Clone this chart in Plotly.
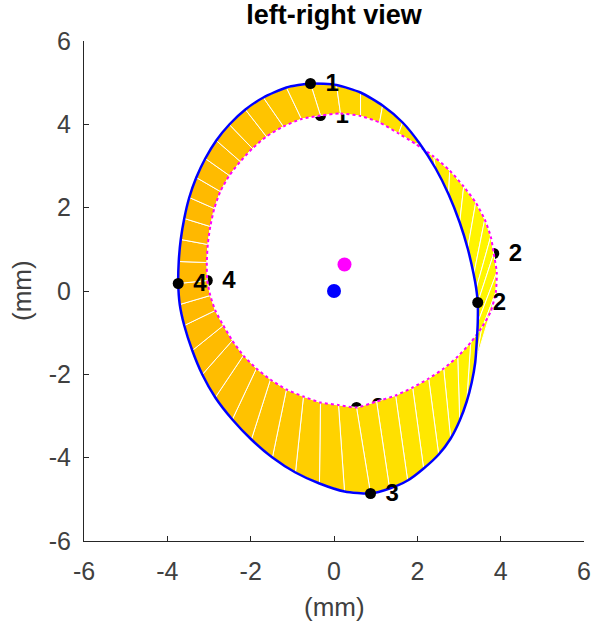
import plotly.graph_objects as go

# ---- data (mm) ----
outer_x = [-0.565, 0.060, 0.637, 1.166, 1.647, 2.055, 2.440, 2.752, 3.017, 3.209, 3.353, 3.413,
           3.450, 3.450, 3.425, 3.389, 3.305, 3.185, 3.017, 2.800, 2.512, 2.151, 1.767, 1.334,
           0.877, 0.252, -0.349, -0.925, -1.478, -1.983, -2.440, -2.849, -3.161, -3.401, -3.594, -3.702,
           -3.738, -3.726, -3.678, -3.594, -3.474, -3.305, -3.089, -2.825, -2.512, -2.127, -1.695, -1.142]
outer_y = [4.980, 4.944, 4.764, 4.452, 4.044, 3.540, 2.940, 2.316, 1.644, 1.020, 0.396, 0.060,
           -0.276, -0.756, -1.236, -1.716, -2.196, -2.652, -3.108, -3.540, -3.924, -4.260, -4.548, -4.740,
           -4.860, -4.812, -4.620, -4.356, -3.996, -3.564, -3.084, -2.556, -2.004, -1.428, -0.828, -0.324,
           0.180, 0.708, 1.236, 1.740, 2.244, 2.724, 3.180, 3.612, 3.996, 4.356, 4.644, 4.884]
inner_x = [-0.325, 0.156, 0.637, 1.094, 1.550, 1.959, 2.392, 2.776, 3.113, 3.401, 3.618, 3.762,
           3.834, 3.906, 3.882, 3.762, 3.546, 3.281, 2.969, 2.632, 2.272, 1.887, 1.478, 1.022,
           0.541, 0.108, -0.325, -0.733, -1.142, -1.526, -1.863, -2.175, -2.440, -2.656, -2.849, -2.969,
           -3.041, -3.053, -3.029, -2.969, -2.873, -2.728, -2.512, -2.248, -1.959, -1.623, -1.214, -0.781]
inner_y = [4.212, 4.260, 4.200, 4.044, 3.780, 3.528, 3.228, 2.892, 2.508, 2.124, 1.716, 1.308,
           0.900, 0.444, -0.036, -0.492, -0.876, -1.236, -1.572, -1.860, -2.100, -2.316, -2.508, -2.652,
           -2.796, -2.736, -2.676, -2.532, -2.364, -2.124, -1.860, -1.548, -1.188, -0.828, -0.468, -0.108,
           0.252, 0.684, 1.116, 1.548, 1.980, 2.388, 2.772, 3.108, 3.420, 3.708, 3.948, 4.128]
label_idx = [0, 12, 24, 36]
label_txt = ["1", "2", "3", "4"]
outer_center = (0.0, 0.0)
inner_center = (0.252, 0.636)
tick_vals = [-6, -4, -2, 0, 2, 4, 6]

FONT = "Liberation Sans, Arial, Helvetica, sans-serif"
AX = "#262626"
TXT = "#404040"
LAB_DX, LAB_DY = 0.52, -0.04

ML, MR, MT, MB = 84, 9, 41, 89
W, H = 593, 630

fig = go.Figure()

# inner markers and labels, drawn first so patches partly cover them
fig.add_trace(go.Scatter(x=[inner_x[i] for i in label_idx], y=[inner_y[i] for i in label_idx],
                         mode="markers", marker=dict(color="black", size=11),
                         hoverinfo="skip", showlegend=False))
fig.add_trace(go.Scatter(x=[inner_x[i] + LAB_DX for i in label_idx],
                         y=[inner_y[i] + LAB_DY for i in label_idx],
                         mode="text", text=[f"<b>{t}</b>" for t in label_txt],
                         textfont=dict(family=FONT, size=24, color="black"),
                         hoverinfo="skip", showlegend=False))

# patches between contours
n = len(outer_x)
c0 = (255, 182, 0)
c1 = (255, 246, 0)
for i in range(n):
    j = (i + 1) % n
    qx = [outer_x[i], outer_x[j], inner_x[j], inner_x[i], outer_x[i]]
    qy = [outer_y[i], outer_y[j], inner_y[j], inner_y[i], outer_y[i]]
    mx = sum(qx[:4]) / 4
    t = min(max((mx + 3.8) / 7.4, 0), 1) ** 1.2
    col = "rgb(%d,%d,%d)" % tuple(round(a + (b - a) * t) for a, b in zip(c0, c1))
    fig.add_trace(go.Scatter(x=qx, y=qy, mode="lines", fill="toself", fillcolor=col,
                             line=dict(color="white", width=1.0),
                             hoverinfo="skip", showlegend=False))

# inner (deformed) contour, dashed
fig.add_trace(go.Scatter(x=inner_x + inner_x[:1], y=inner_y + inner_y[:1], mode="lines",
                         line=dict(color="#FF00FF", width=2, dash="3px,3px", shape="spline", smoothing=0.6),
                         hoverinfo="skip", showlegend=False))

# outer (reference) contour
fig.add_trace(go.Scatter(x=outer_x + outer_x[:1], y=outer_y + outer_y[:1], mode="lines",
                         line=dict(color="#0000FF", width=2.5, shape="spline", smoothing=0.6),
                         hoverinfo="skip", showlegend=False))
fig.add_trace(go.Scatter(x=[outer_x[i] for i in label_idx], y=[outer_y[i] for i in label_idx],
                         mode="markers", marker=dict(color="black", size=11),
                         hoverinfo="skip", showlegend=False))
fig.add_trace(go.Scatter(x=[outer_x[i] + LAB_DX for i in label_idx],
                         y=[outer_y[i] + LAB_DY for i in label_idx],
                         mode="text", text=[f"<b>{t}</b>" for t in label_txt],
                         textfont=dict(family=FONT, size=24, color="black"),
                         hoverinfo="skip", showlegend=False))

# centroids
fig.add_trace(go.Scatter(x=[inner_center[0]], y=[inner_center[1]], mode="markers",
                         marker=dict(color="#FF00FF", size=14), hoverinfo="skip", showlegend=False))
fig.add_trace(go.Scatter(x=[outer_center[0]], y=[outer_center[1]], mode="markers",
                         marker=dict(color="#0000FF", size=14), hoverinfo="skip", showlegend=False))

axis_common = dict(range=[-6, 6], tickvals=tick_vals, ticktext=[str(v) for v in tick_vals],
                   showgrid=False, zeroline=False, showline=True, linecolor=AX, linewidth=1,
                   ticks="inside", ticklen=5, tickcolor=AX, mirror=False, automargin=False,
                   tickfont=dict(family=FONT, size=25, color=TXT))

fig.update_layout(
    width=W, height=H,
    margin=dict(l=ML, r=MR, t=MT, b=MB),
    paper_bgcolor="white", plot_bgcolor="white",
    hovermode=False,
    title=dict(text="<b>left-right view</b>", x=(ML + (W - MR)) / 2 / W, xanchor="center",
               y=1 - 15 / H, yanchor="middle", yref="container",
               font=dict(family=FONT, size=27, color="black")),
    xaxis=dict(**axis_common, ticklabelstandoff=8),
    yaxis=dict(**axis_common, ticklabelstandoff=7),
    annotations=[
        dict(text="(mm)", xref="paper", yref="paper", x=0.5, y=0, xanchor="center",
             yanchor="middle", yshift=-66, showarrow=False,
             font=dict(family=FONT, size=26, color=TXT)),
        dict(text="(mm)", xref="paper", yref="paper", x=0, y=0.5, xanchor="center",
             yanchor="middle", xshift=-62, textangle=-90, showarrow=False,
             font=dict(family=FONT, size=26, color=TXT)),
    ],
)

fig.write_html("out.html",
               config={"displayModeBar": False, "staticPlot": True},
               post_script="document.body.style.margin='0px';"
                           "document.body.style.overflow='hidden';")
